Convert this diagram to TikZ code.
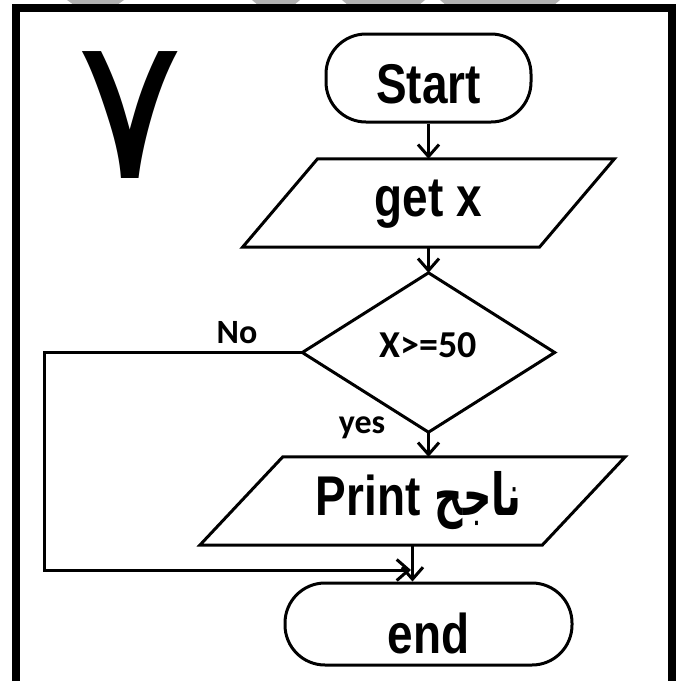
\documentclass[tikz,border=0pt]{standalone}
\usepackage{fontspec}
\setmainfont{Liberation Sans}
\newfontfamily\calfont{Carlito}
\newfontfamily\arabicfont[Script=Arabic]{DejaVu Sans}
\TeXXeTstate=1
\usetikzlibrary{arrows.meta}
\newcommand\narr[1]{\scalebox{0.82}[1]{#1}}
\newcommand\placed[2]{\raisebox{#1}[0pt][0pt]{#2}}
\begin{document}
\begin{tikzpicture}[x=1pt,y=-1pt,
  box/.style={draw, line width=3pt, rounded corners=40pt, inner sep=0pt},
  plain/.style={inner sep=0pt},
  outline/.style={draw, line width=3pt, line join=miter},
  arr/.style={line width=3pt, -{Straight Barb[length=12pt,width=21pt]}},
  bigfont/.style={font=\bfseries\fontsize{56}{60}\selectfont},
  lab/.style={font=\calfont\bfseries\fontsize{34}{36}\selectfont}
]
\useasboundingbox (0,0) rectangle (686,681);
% grey shapes cut by the top edge
\fill[gray!60] (67,0) -- (124,0) -- (117,5) -- (74,5) -- cycle;
\fill[gray!60] (252,0) -- (300,0) -- (294,5) -- (258,5) -- cycle;
\fill[gray!60] (342,0) -- (425,0) -- (419,5) -- (348,5) -- cycle;
\fill[gray!60] (440,0) -- (560,0) -- (554,5) -- (446,5) -- cycle;
% frame
\draw[line width=8pt, line cap=butt, line join=miter] (16,681) -- (16,8) -- (672,8) -- (672,681);
% big digit
\node[inner sep=0pt, font=\arabicfont\fontsize{200}{200}\selectfont] (seven) at (130,115) {\beginR ٧\endR};
% nodes
\node[box, minimum width=205pt, minimum height=88pt, bigfont] (start) at (428.5,78) {\placed{-25pt}{\narr{Start}}};
\node[plain, minimum width=296.5pt, minimum height=88pt, bigfont] (getx) at (428.5,203) {\placed{-13pt}{\narr{get x}}};
\draw[outline] ([xshift=37.5pt]getx.north west) -- ([xshift=37.5pt]getx.north east) -- ([xshift=-37.5pt]getx.south east) -- ([xshift=-37.5pt]getx.south west) -- cycle;
\node[plain, minimum width=252pt, minimum height=159pt, font=\calfont\bfseries\fontsize{38}{40}\selectfont] (dia) at (428.5,352.5) {\placed{-4.5pt}{X>=50}};
\draw[outline] (dia.north) -- (dia.east) -- (dia.south) -- (dia.west) -- cycle;
\node[plain, minimum width=342pt, minimum height=88pt, bigfont] (print) at (412.5,501) {\placed{-14pt}{\hspace{12pt}\narr{Print}\hspace{14pt}\scalebox{0.68}[1]{\arabicfont\fontsize{58}{60}\selectfont\beginR ناجح\endR}}};
\draw[outline] ([xshift=41.5pt]print.north west) -- ([xshift=41.5pt]print.north east) -- ([xshift=-41.5pt]print.south east) -- ([xshift=-41.5pt]print.south west) -- cycle;
\node[box, minimum width=287pt, minimum height=82pt, bigfont] (endn) at (428.5,624) {\placed{-29pt}{\narr{end}}};
% labels
\node[lab] (no) at (237,333) {No};
\node[lab] (yes) at (362,428) {yes};
% connectors
\coordinate (nocorner) at (44,570);
\coordinate (nojoin) at ([xshift=-1.5pt]print.south |- nocorner);
\draw[arr] (start.south) -- (getx.north);
\draw[arr] (getx.south) -- (dia.north);
\draw[arr] (dia.south) -- (dia.south |- print.north);
\draw[arr] (print.south) -- (print.south |- endn.north);
\draw[arr] (dia.west) -| (nocorner) -- (nojoin);
\end{tikzpicture}
\end{document}
